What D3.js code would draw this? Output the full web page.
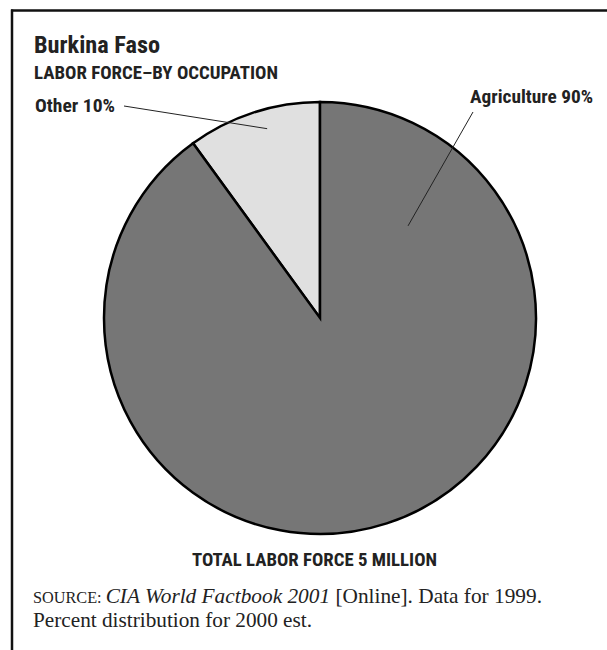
<!DOCTYPE html>
<html>
<head>
<meta charset="utf-8">
<script src="https://cdn.jsdelivr.net/npm/d3@7"></script>
<style>
  body { margin: 0; background: #fff; }
  svg { display: block; }
  .cond { font-family: "Liberation Sans Narrow", "Roboto Condensed", "Arial Narrow", sans-serif; font-weight: bold; fill: #222; }
  .serif { font-family: "Liberation Serif", "Times New Roman", serif; fill: #222; }
</style>
</head>
<body>
<svg width="607" height="650"></svg>
<script>
var categories = ["Other", "Agriculture"];
var values = [10, 90];
var labels = ["Other 10%", "Agriculture 90%"];

var title = "Burkina Faso";
var subtitle = "LABOR FORCE\u2013BY OCCUPATION";
var totalNote = "TOTAL LABOR FORCE 5 MILLION";

var svg = d3.select("svg");
var width = 607, height = 650;

// frame: top rule and left rule only
svg.append("line").attr("x1", 11).attr("x2", width).attr("y1", 10.5).attr("y2", 10.5)
  .attr("stroke", "#111").attr("stroke-width", 2.5);
svg.append("line").attr("x1", 12).attr("x2", 12).attr("y1", 9.5).attr("y2", height)
  .attr("stroke", "#111").attr("stroke-width", 2.5);

function condText(x, y, size, len, anchor, str) {
  return svg.append("text").attr("class", "cond").attr("x", x).attr("y", y)
    .attr("text-anchor", anchor).style("font-size", size + "px")
    .attr("textLength", len).attr("lengthAdjust", "spacingAndGlyphs")
    .text(str);
}

condText(34, 53, 23, 126, "start", title);
condText(34, 79, 18, 244, "start", subtitle);

var cx = 320, cy = 318, r = 216;
var color = d3.scaleOrdinal().domain(categories).range(["#e0e0e0", "#767676"]);

var pie = d3.pie().sort(null).value(function(d) { return d.value; })
  .startAngle(-values[0] / 100 * 2 * Math.PI)
  .endAngle(2 * Math.PI - values[0] / 100 * 2 * Math.PI);
var arc = d3.arc().innerRadius(0).outerRadius(r);

var data = categories.map(function(c, i) { return {name: c, value: values[i], label: labels[i]}; });
var arcs = pie(data);

var g = svg.append("g").attr("transform", "translate(" + cx + "," + cy + ")");
g.selectAll("path").data(arcs).enter().append("path")
  .attr("d", arc)
  .attr("fill", function(d) { return color(d.data.name); })
  .attr("stroke", "#000")
  .attr("stroke-width", 2.5)
  .attr("stroke-linejoin", "miter");

// label placement (layout only)
var labelLayout = {
  "Other": {x: 35, y: 112, w: 80, anchor: "start", lx: 124, ly: 106, ang: -15.6, frac: 0.91},
  "Agriculture": {x: 593, y: 103, w: 123, anchor: "end", lx: 473, ly: 112, ang: 43.7, frac: 0.59}
};

arcs.forEach(function(d) {
  var L = labelLayout[d.data.name];
  var a = L.ang * Math.PI / 180;
  var ex = cx + Math.sin(a) * r * L.frac;
  var ey = cy - Math.cos(a) * r * L.frac;
  svg.append("line").attr("x1", L.lx).attr("y1", L.ly).attr("x2", ex).attr("y2", ey)
    .attr("stroke", "#222").attr("stroke-width", 1);
  condText(L.x, L.y, 18, L.w, L.anchor, d.data.label);
});

condText(314.5, 566, 18, 245, "middle", totalNote);

var src = svg.append("text").attr("class", "serif").attr("x", 33).attr("y", 603)
  .style("font-size", "21px").attr("textLength", 509).attr("lengthAdjust", "spacingAndGlyphs");
src.append("tspan").style("font-size", "16px").text("SOURCE: ");
src.append("tspan").style("font-style", "italic").text("CIA World Factbook 2001");
src.append("tspan").text(" [Online]. Data for 1999.");
svg.append("text").attr("class", "serif").attr("x", 33).attr("y", 627).style("font-size", "21px")
  .attr("textLength", 279).attr("lengthAdjust", "spacingAndGlyphs")
  .text("Percent distribution for 2000 est.");
</script>
</body>
</html>
